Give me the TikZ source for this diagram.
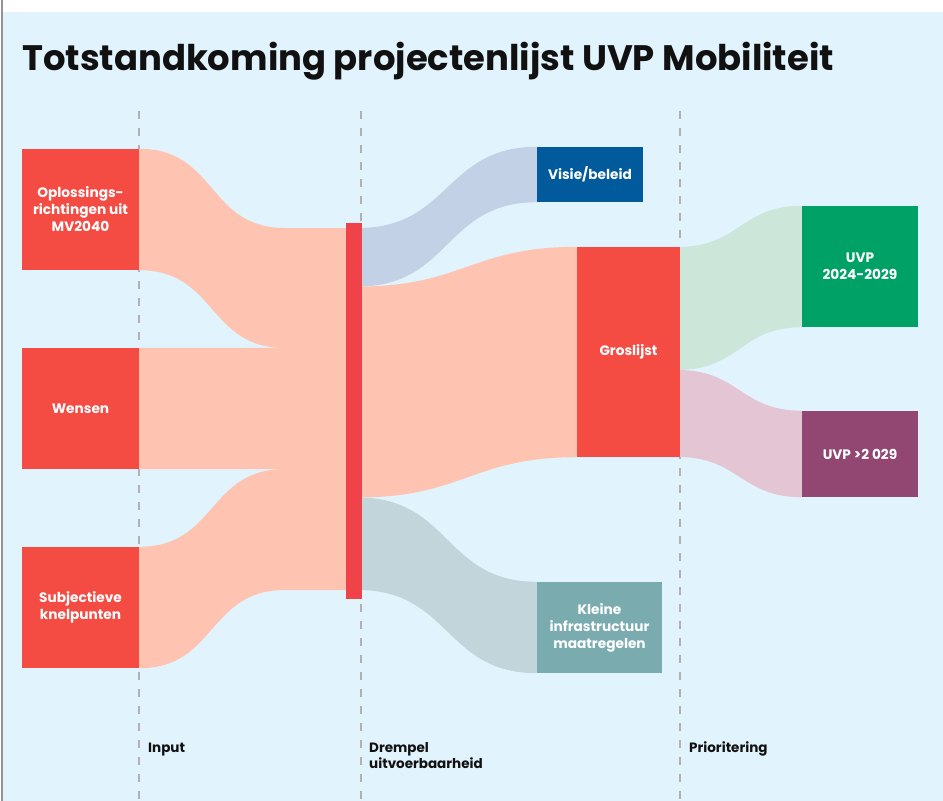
\documentclass[tikz,border=0pt]{standalone}
\usepackage{fontspec}
\setmainfont{Poppins}
\usetikzlibrary{calc}
\definecolor{bg}{HTML}{E1F3FD}
\definecolor{redbox}{HTML}{F44B43}
\definecolor{barred}{HTML}{EF4349}
\definecolor{salmon}{HTML}{FFC4B1}
\definecolor{visieflow}{HTML}{C3D1E6}
\definecolor{visiebox}{HTML}{005A9C}
\definecolor{greenflow}{HTML}{CCE6DA}
\definecolor{greenbox}{HTML}{00A166}
\definecolor{pinkflow}{HTML}{E4C5D3}
\definecolor{purplebox}{HTML}{924772}
\definecolor{tealflow}{HTML}{C2D5DA}
\definecolor{tealbox}{HTML}{7AABAF}
\definecolor{guidegray}{HTML}{B3AFB5}
\definecolor{ink}{HTML}{111111}
\tikzset{
  box/.style={rectangle, inner sep=0pt, align=center, text=white,
    font=\bfseries\fontsize{13.7}{17}\selectfont},
  guide/.style={draw=guidegray, line width=2.4pt, dash pattern=on 8pt off 9pt},
  lbl/.style={anchor=base west, inner sep=0pt, align=left, text=ink,
    font=\bfseries\fontsize{13.5}{16}\selectfont},
  sflow/.style={out=0, in=180, looseness=1.2},
  rflow/.style={out=180, in=0, looseness=1.2}
}
\begin{document}
\begin{tikzpicture}[x=1pt,y=-1pt]
\useasboundingbox (0,0) rectangle (943,801);
\fill[white] (0,0) rectangle (943,801);
\fill[bg] (2.7,12) rectangle (943,801);
\fill[gray!85] (0.9,0) rectangle (2.7,801);

% title
\node[anchor=base west, inner sep=0pt, text=ink,
  font=\bfseries\fontsize{35.4}{40}\selectfont] (title) at (22,70)
  {Totstandkoming projectenlijst UVP Mobiliteit};

% guide lines
\coordinate (g1t) at (139,111); \coordinate (g1b) at (139,801);
\coordinate (g2t) at (361,111); \coordinate (g2b) at (361,801);
\coordinate (g3t) at (680,111); \coordinate (g3b) at (680,801);
\draw[guide] (g1t) -- (g1b);
\draw[guide] (g2t) -- (g2b);
\draw[guide] (g3t) -- (g3b);

% boxes (defined first, filled later on top of flows)
\path
  node[box, minimum width=117, minimum height=121] (opl) at (80.5,209.5) {}
  node[box, minimum width=117, minimum height=121] (wen) at (80.5,408.5) {}
  node[box, minimum width=117, minimum height=121] (sub) at (80.5,607.5) {}
  node[box, minimum width=16, minimum height=376] (bar) at (354,411) {}
  node[box, minimum width=106, minimum height=55] (vis) at (590,174.5) {}
  node[box, minimum width=103, minimum height=210] (gro) at (628.5,352) {}
  node[box, minimum width=116, minimum height=121] (uv1) at (860,266.5) {}
  node[box, minimum width=116, minimum height=86] (uv2) at (860,454) {}
  node[box, minimum width=125, minimum height=91] (kle) at (599.5,627.5) {};

% attachment points on bar
\coordinate (c1t) at (285,228); \coordinate (c1b) at (285,348);
\coordinate (c3t) at (285,469); \coordinate (c3b) at (285,590);
\coordinate (bl1) at (350,228); \coordinate (bl2) at (350,348);
\coordinate (bl3) at (350,469); \coordinate (bl4) at (350,590);
\coordinate (br1) at (358,228); \coordinate (br2) at (358,286.5);
\coordinate (br3) at (358,497.5); \coordinate (br4) at (358,590);
\coordinate (gsplit) at (678,370);
\coordinate (gtop) at (678,247); \coordinate (gbot) at (678,457);

% input flows
\fill[salmon] (opl.north east) to[sflow] (c1t) -- (bl1) -- (bl2) -- (c1b) to[rflow] (opl.south east) -- cycle;
\fill[salmon] (wen.north east) -- (bl2) -- (bl3) -- (wen.south east) -- cycle;
\fill[salmon] (sub.north east) to[sflow] (c3t) -- (bl3) -- (bl4) -- (c3b) to[rflow] (sub.south east) -- cycle;

% output flows
\fill[visieflow] (br1) to[sflow] (vis.north west) -- (vis.south west) to[rflow] (br2) -- cycle;
\fill[salmon] (br2) to[sflow] (gro.north west) -- (gro.south west) to[rflow] (br3) -- cycle;
\fill[tealflow] (br3) to[sflow] (kle.north west) -- (kle.south west) to[rflow] (br4) -- cycle;
\fill[greenflow] (gtop) to[sflow] (uv1.north west) -- (uv1.south west) to[rflow] (gsplit) -- cycle;
\fill[pinkflow] (gsplit) to[sflow] (uv2.north west) -- (uv2.south west) to[rflow] (gbot) -- cycle;

% boxes on top
\node[box, fill=redbox, minimum width=117, minimum height=121] at (opl) {Oplossings-\\richtingen uit\\MV2040};
\node[box, fill=redbox, minimum width=117, minimum height=121] at (wen) {Wensen};
\node[box, fill=redbox, minimum width=117, minimum height=121] at (sub) {Subjectieve\\knelpunten};
\node[box, fill=barred, minimum width=16, minimum height=376] at (bar) {};
\node[box, fill=visiebox, minimum width=106, minimum height=55] at (vis) {Visie/beleid};
\node[box, fill=redbox, minimum width=103, minimum height=210] at (gro) {Groslijst};
\node[box, fill=greenbox, minimum width=116, minimum height=121] at (uv1) {UVP\\2024-2029};
\node[box, fill=purplebox, minimum width=116, minimum height=86] at (uv2) {UVP >2 029};
\node[box, fill=tealbox, minimum width=125, minimum height=91] at (kle) {Kleine\\infrastructuur\\maatregelen};

% bottom labels
\node[lbl] (inp) at (148,752) {Input};
\node[lbl] (dre) at (369,768) {Drempel\\uitvoerbaarheid};
\node[lbl] (pri) at (689,752) {Prioritering};
\end{tikzpicture}
\end{document}
